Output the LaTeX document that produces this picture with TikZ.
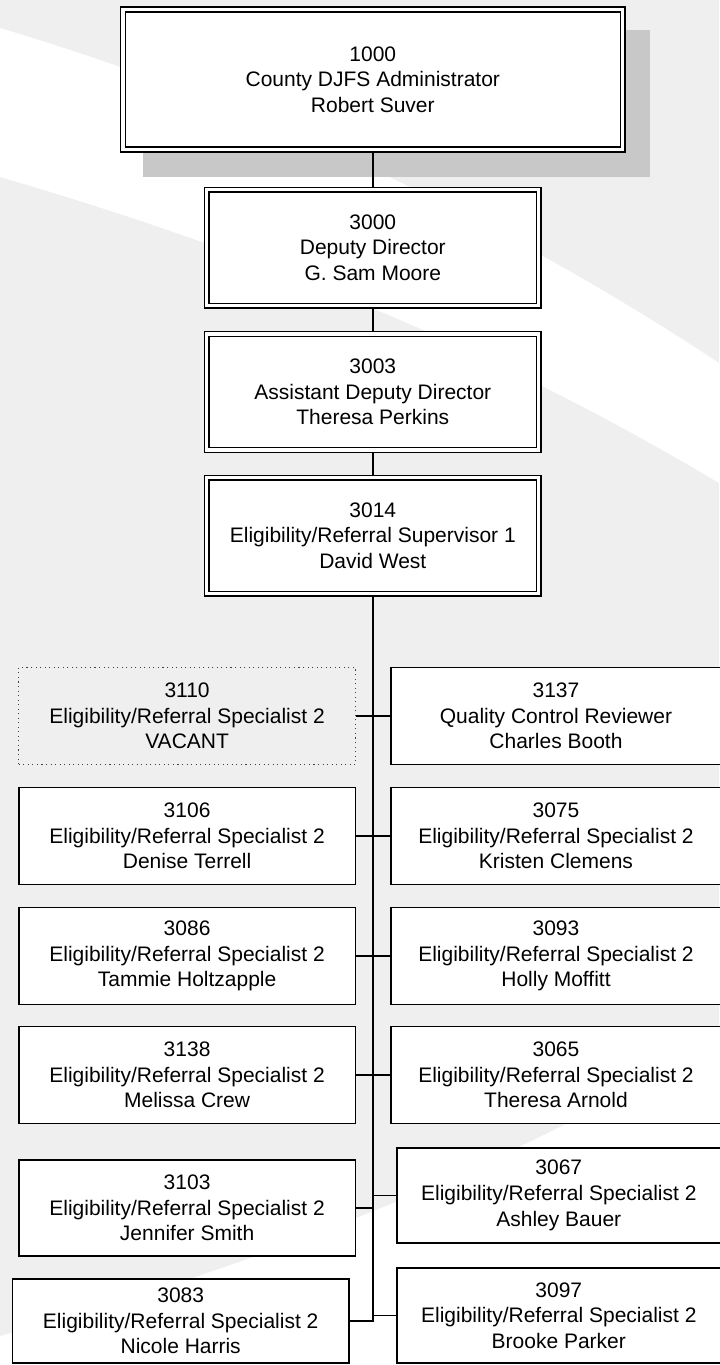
\documentclass[tikz,border=0pt]{standalone}
\usepackage{fontspec}
\setmainfont{Liberation Sans}
\usetikzlibrary{calc}
\pgfdeclarelayer{bg}
\pgfdeclarelayer{lines}
\pgfsetlayers{bg,lines,main}
\definecolor{pagegrey}{RGB}{239,239,239}
\definecolor{shadowgrey}{RGB}{200,200,200}
\tikzset{every picture/.style={line width=0.75pt},
  post/.style={draw, fill=white, line width=1.3pt, align=center, inner sep=0pt,
    font=\fontsize{15.75}{19.3}\selectfont},
  headpost/.style={post, line width=1.1pt, double=white, double distance=2.4pt},
  vacantpost/.style={post, draw=black!75, fill=none, line width=0.8pt, dash pattern=on 0.8pt off 2.6pt},
  link/.style={line width=1.4pt}}

\begin{document}
\begin{tikzpicture}[x=0.75pt,y=0.75pt,yscale=-1,xscale=1]
\useasboundingbox (0,0) rectangle (719,1365);

% Head Nodes
\draw (372.8,79.5) node (admin) [headpost, minimum width=374.85pt, minimum height=105pt] {1000\\County DJFS Administrator\\Robert Suver};
\draw (372.8,247.75) node (deputy) [headpost, minimum width=249pt, minimum height=87pt] {3000\\Deputy Director\\G. Sam Moore};
\draw (372.8,392) node (asstdeputy) [headpost, minimum width=249pt, minimum height=87pt] {3003\\Assistant Deputy Director\\Theresa Perkins};
\draw (372.8,535.75) node (supervisor) [headpost, minimum width=249pt, minimum height=87pt] {3014\\Eligibility/Referral Supervisor 1\\David West};

% Left Column
\draw (187.1,716) node (vacant) [vacantpost, minimum width=252.5pt, minimum height=72.75pt] {3110\\Eligibility/Referral Specialist 2\\VACANT};
\draw (187.1,836) node (terrell) [post, minimum width=252.5pt, minimum height=72.75pt] {3106\\Eligibility/Referral Specialist 2\\Denise Terrell};
\draw (187.1,956) node (holtzapple) [post, minimum width=252.5pt, minimum height=72.75pt] {3086\\Eligibility/Referral Specialist 2\\Tammie Holtzapple};
\draw (187.1,1075) node (crew) [post, minimum width=252.5pt, minimum height=72.75pt] {3138\\Eligibility/Referral Specialist 2\\Melissa Crew};
\draw (187.1,1208) node (smith) [post, minimum width=252.5pt, minimum height=72pt] {3103\\Eligibility/Referral Specialist 2\\Jennifer Smith};
\draw (180.7,1321) node (harris) [post, minimum width=252.5pt, minimum height=63pt] {3083\\Eligibility/Referral Specialist 2\\Nicole Harris};

% Right Column
\draw (556,716) node (booth) [post, minimum width=247.5pt, minimum height=72.75pt] {3137\\Quality Control Reviewer\\Charles Booth};
\draw (556,836) node (clemens) [post, minimum width=247.5pt, minimum height=72.75pt] {3075\\Eligibility/Referral Specialist 2\\Kristen Clemens};
\draw (556,956) node (moffitt) [post, minimum width=247.5pt, minimum height=72.75pt] {3093\\Eligibility/Referral Specialist 2\\Holly Moffitt};
\draw (556,1075) node (arnold) [post, minimum width=247.5pt, minimum height=72.75pt] {3065\\Eligibility/Referral Specialist 2\\Theresa Arnold};
\draw (558.8,1195.5) node (bauer) [post, minimum width=243pt, minimum height=71.25pt] {3067\\Eligibility/Referral Specialist 2\\Ashley Bauer};
\draw (558.8,1315.5) node (parker) [post, minimum width=243pt, minimum height=71.25pt] {3097\\Eligibility/Referral Specialist 2\\Brooke Parker};

\begin{pgfonlayer}{bg}
%Page Background
\fill [pagegrey] (0,0) rectangle (719,1365);
\fill [white] (0,28) .. controls (258.3,105.3) and (498,217) .. (719,363) -- (719,483) .. controls (509.3,357.2) and (269.7,255.2) .. (0,177) -- cycle;
\fill [white] (0,1336) .. controls (273.3,1262) and (513,1163.3) .. (719,1040) -- (719,1365) -- (0,1365) -- cycle;
%Shadow
\fill [shadowgrey] ($(admin.north west)+(21,21)$) rectangle ($(admin.south east)+(27,27)$);
\end{pgfonlayer}

\begin{pgfonlayer}{lines}
%Straight Lines
\draw [link] (admin) -- (deputy);
\draw [link] (deputy) -- (asstdeputy);
\draw [link] (asstdeputy) -- (supervisor);
\draw [link] (supervisor) |- (harris);
\draw [link] (vacant) -- (booth);
\draw [link] (terrell) -- (clemens);
\draw [link] (holtzapple) -- (moffitt);
\draw [link] (crew) -- (arnold);
\draw [link] (smith) -- (smith -| supervisor);
\draw [link] (bauer) -- (bauer -| supervisor);
\draw [link] (parker) -- (parker -| supervisor);
\end{pgfonlayer}

\end{tikzpicture}
\end{document}
